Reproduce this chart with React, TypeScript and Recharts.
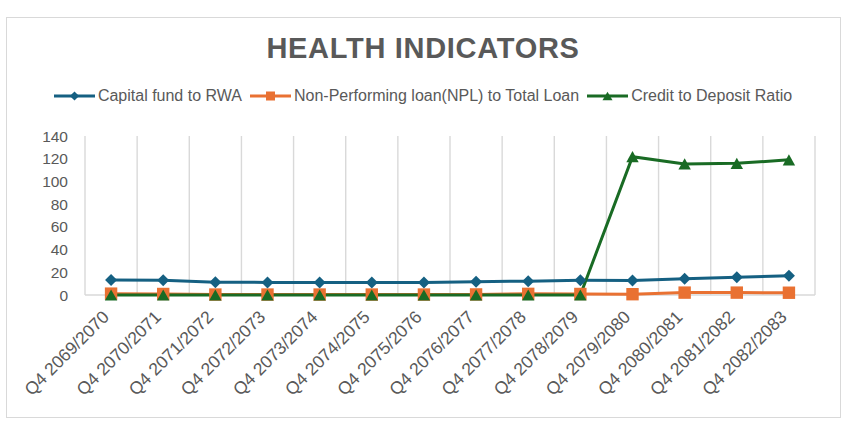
import React from 'react';
import { LineChart, Line, XAxis, YAxis, CartesianGrid, Legend } from 'recharts';

const categories = [
  'Q4 2069/2070', 'Q4 2070/2071', 'Q4 2071/2072', 'Q4 2072/2073', 'Q4 2073/2074',
  'Q4 2074/2075', 'Q4 2075/2076', 'Q4 2076/2077', 'Q4 2077/2078', 'Q4 2078/2079',
  'Q4 2079/2080', 'Q4 2080/2081', 'Q4 2081/2082', 'Q4 2082/2083',
];
const capitalFund = [13.3, 13.0, 11.2, 11.1, 11.1, 11.1, 11.1, 11.7, 12.2, 13.0, 12.8, 14.4, 15.6, 17.0];
const nplRatio = [1.2, 0.9, 0.4, 0.4, 0.4, 0.4, 0.4, 0.5, 1.0, 0.9, 0.7, 2.1, 2.1, 2.0];
const creditDeposit = [0, 0, 0, 0, 0, 0, 0, 0, 0, 0, 121.8, 115.4, 115.9, 119.0];
const yTicks = [0, 20, 40, 60, 80, 100, 120, 140];

const data = categories.map((name, i) => ({
  name,
  capital: capitalFund[i],
  npl: nplRatio[i],
  credit: creditDeposit[i],
}));

const C_CAP = '#156082';
const C_NPL = '#E97132';
const C_CRD = '#196B24';
const TEXT = '#595959';
const GRID = '#d9d9d9';
const FONT = '"Liberation Sans", Arial, sans-serif';

const Diamond = ({ cx, cy, r = 6, fill }: any) => (
  <path d={`M${cx},${cy - r}L${cx + r},${cy}L${cx},${cy + r}L${cx - r},${cy}Z`} fill={fill} />
);
const Square = ({ cx, cy, s = 6.2, fill }: any) => (
  <rect x={cx - s} y={cy - s} width={2 * s} height={2 * s} fill={fill} />
);
const Triangle = ({ cx, cy, w = 6.2, h = 5.6, fill }: any) => (
  <path d={`M${cx},${cy - h}L${cx + w},${cy + h}L${cx - w},${cy + h}Z`} fill={fill} />
);

const series = [
  { key: 'capital', label: 'Capital fund to RWA', color: C_CAP, Marker: Diamond },
  { key: 'npl', label: 'Non-Performing loan(NPL) to Total Loan', color: C_NPL, Marker: Square },
  { key: 'credit', label: 'Credit to Deposit Ratio', color: C_CRD, Marker: Triangle },
];

const XTick = ({ x, y, payload }: any) => {
  const tx = x - 1;
  const ty = y + 23;
  return (
    <text
      x={tx}
      y={ty}
      transform={`rotate(-45, ${tx}, ${ty})`}
      textAnchor="end"
      fill={TEXT}
      fontSize={17.5}
      fontFamily={FONT}
    >
      {payload.value}
    </text>
  );
};

const renderLegend = () => (
  <div
    style={{
      display: 'flex',
      justifyContent: 'center',
      alignItems: 'center',
      fontFamily: FONT,
      fontSize: 16,
      color: TEXT,
      lineHeight: '20px',
      whiteSpace: 'nowrap',
    }}
  >
    {series.map((s, i) => {
      const M = s.Marker;
      return (
        <div key={s.key} style={{ display: 'flex', alignItems: 'center', marginLeft: i === 0 ? 0 : 8 }}>
          <svg width={41} height={14} style={{ marginRight: 3 }}>
            <line x1={0} y1={7} x2={41} y2={7} stroke={s.color} strokeWidth={3} />
            {s.key === 'capital' && <M cx={20.5} cy={7} r={4.6} fill={s.color} />}
            {s.key === 'npl' && <M cx={20.5} cy={7} s={4.5} fill={s.color} />}
            {s.key === 'credit' && <M cx={20.5} cy={7} w={5} h={4.3} fill={s.color} />}
          </svg>
          <span>{s.label}</span>
        </div>
      );
    })}
  </div>
);

export default function App() {
  return (
    <div style={{ position: 'absolute', left: 0, top: 0, width: 846, height: 430, background: '#fff' }}>
      <div
        style={{
          position: 'absolute',
          left: 6,
          top: 17,
          width: 835,
          height: 401,
          border: `1.5px solid ${GRID}`,
          boxSizing: 'border-box',
        }}
      />
      <div
        style={{
          position: 'absolute',
          left: 0,
          top: 33.8,
          width: 846,
          textAlign: 'center',
          fontFamily: FONT,
          fontWeight: 'bold',
          fontSize: 29,
          lineHeight: '29px',
          letterSpacing: 0.7,
          color: TEXT,
        }}
      >
        HEALTH INDICATORS
      </div>
      <LineChart
        width={846}
        height={430}
        data={data}
        margin={{ top: 136, right: 31, left: 25, bottom: 0 }}
        style={{ position: 'absolute', left: 0, top: 0 }}
      >
        <CartesianGrid
          stroke={GRID}
          strokeWidth={1.4}
          verticalCoordinatesGenerator={({ offset }: any) =>
            categories.map((_, i) => offset.left + (i * offset.width) / categories.length).concat([offset.left + offset.width])
          }
          horizontalCoordinatesGenerator={({ offset }: any) => [offset.top + offset.height]}
        />
        <XAxis
          dataKey="name"
          scale="band"
          interval={0}
          tickLine={false}
          tickSize={0}
          tickMargin={0}
          axisLine={false}
          height={135}
          tick={<XTick />}
        />
        <YAxis
          domain={[0, 140]}
          ticks={yTicks}
          interval={0}
          axisLine={false}
          tickLine={false}
          tickSize={0}
          tickMargin={17}
          width={60}
          tick={{ fill: TEXT, fontSize: 15.5, fontFamily: FONT }}
        />
        <Legend
          verticalAlign="middle"
          align="center"
          layout="horizontal"
          wrapperStyle={{ top: 86, left: 0, width: 846 }}
          content={renderLegend}
        />
        {series.map((s) => {
          const M = s.Marker;
          return (
            <Line
              key={s.key}
              type="linear"
              dataKey={s.key}
              stroke={s.color}
              strokeWidth={3}
              isAnimationActive={false}
              activeDot={false}
              dot={(p: any) => <M key={`${s.key}-${p.index}`} cx={p.cx} cy={p.cy} fill={s.color} />}
            />
          );
        })}
      </LineChart>
    </div>
  );
}
